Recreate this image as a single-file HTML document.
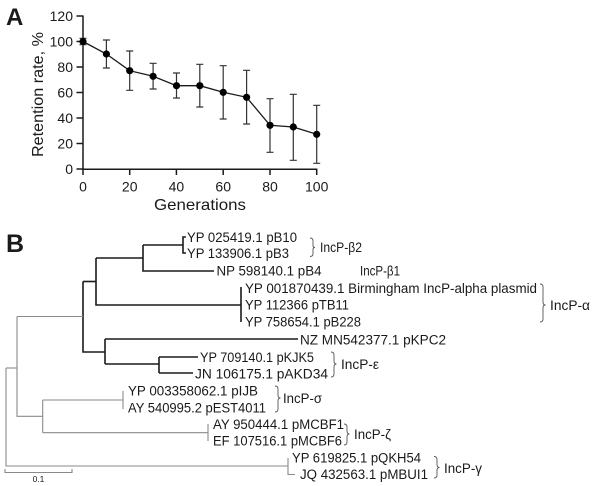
<!DOCTYPE html>
<html><head><meta charset="utf-8"><style>
html,body{margin:0;padding:0;background:#fff;}
svg{display:block;}
text{font-family:"Liberation Sans",sans-serif;fill:#1a1a1a;}
</style></head><body>
<svg width="600" height="486" viewBox="0 0 600 486" xmlns="http://www.w3.org/2000/svg">
<!-- Panel A -->
<text x="6" y="25" font-size="24" font-weight="bold">A</text>
<g stroke="#1a1a1a" stroke-width="1.5" fill="none">
  <line x1="83" y1="15.5" x2="83" y2="169.5"/>
  <line x1="82.3" y1="169.3" x2="317.4" y2="169.3"/>
  <line x1="76.5" y1="16" x2="83" y2="16"/>
  <line x1="76.5" y1="41.5" x2="83" y2="41.5"/>
  <line x1="76.5" y1="67" x2="83" y2="67"/>
  <line x1="76.5" y1="92.5" x2="83" y2="92.5"/>
  <line x1="76.5" y1="118" x2="83" y2="118"/>
  <line x1="76.5" y1="143.5" x2="83" y2="143.5"/>
  <line x1="76.5" y1="169" x2="83" y2="169"/>
  <line x1="83" y1="169" x2="83" y2="175"/>
  <line x1="129.7" y1="169" x2="129.7" y2="175"/>
  <line x1="176.4" y1="169" x2="176.4" y2="175"/>
  <line x1="223.2" y1="169" x2="223.2" y2="175"/>
  <line x1="270" y1="169" x2="270" y2="175"/>
  <line x1="316.7" y1="169" x2="316.7" y2="175"/>
</g>
<g font-size="14" text-anchor="end">
  <text x="73" y="21">120</text>
  <text x="73" y="46.5">100</text>
  <text x="73" y="72">80</text>
  <text x="73" y="97.5">60</text>
  <text x="73" y="123">40</text>
  <text x="73" y="148.5">20</text>
  <text x="73" y="174">0</text>
</g>
<g font-size="14" text-anchor="middle">
  <text x="83" y="191.5">0</text>
  <text x="129.7" y="191.5">20</text>
  <text x="176.4" y="191.5">40</text>
  <text x="223.2" y="191.5">60</text>
  <text x="270" y="191.5">80</text>
  <text x="316.7" y="191.5">100</text>
</g>
<text x="200" y="210" font-size="16" text-anchor="middle" textLength="92" lengthAdjust="spacingAndGlyphs">Generations</text>
<text transform="translate(43,94.5) rotate(-90)" font-size="16" text-anchor="middle" textLength="125" lengthAdjust="spacingAndGlyphs">Retention rate, %</text>
<!-- error bars -->
<g stroke="#333" stroke-width="1.2" fill="none">
  <path d="M83 38.3V44.7M79.5 38.3H86.5M79.5 44.7H86.5"/>
  <path d="M106.4 40V68M102.9 40H109.9M102.9 68H109.9"/>
  <path d="M129.7 51V90.3M126.2 51H133.2M126.2 90.3H133.2"/>
  <path d="M153.1 63.3V89M149.6 63.3H156.6M149.6 89H156.6"/>
  <path d="M176.5 73V98M173 73H180M173 98H180"/>
  <path d="M199.8 64.3V107M196.3 64.3H203.3M196.3 107H203.3"/>
  <path d="M223.2 65.7V119M219.7 65.7H226.7M219.7 119H226.7"/>
  <path d="M246.6 70.3V124M243.1 70.3H250.1M243.1 124H250.1"/>
  <path d="M270 98.7V152.3M266.5 98.7H273.5M266.5 152.3H273.5"/>
  <path d="M293.3 94.3V160.3M289.8 94.3H296.8M289.8 160.3H296.8"/>
  <path d="M316.7 105.3V163.3M313.2 105.3H320.2M313.2 163.3H320.2"/>
</g>
<polyline fill="none" stroke="#1a1a1a" stroke-width="1.3" points="83,41.5 106.4,54 129.7,70.7 153.1,76.3 176.5,85.7 199.8,85.7 223.2,92.3 246.6,97.3 270,125.3 293.3,127 316.7,134.3"/>
<g fill="#000">
  <circle cx="83" cy="41.5" r="3.6"/>
  <circle cx="106.4" cy="54" r="3.6"/>
  <circle cx="129.7" cy="70.7" r="3.6"/>
  <circle cx="153.1" cy="76.3" r="3.6"/>
  <circle cx="176.5" cy="85.7" r="3.6"/>
  <circle cx="199.8" cy="85.7" r="3.6"/>
  <circle cx="223.2" cy="92.3" r="3.6"/>
  <circle cx="246.6" cy="97.3" r="3.6"/>
  <circle cx="270" cy="125.3" r="3.6"/>
  <circle cx="293.3" cy="127" r="3.6"/>
  <circle cx="316.7" cy="134.3" r="3.6"/>
</g>

<!-- Panel B -->
<text x="6" y="252" font-size="25" font-weight="bold">B</text>
<!-- black subtree -->
<g stroke="#1a1a1a" stroke-width="1.6" fill="none">
  <path d="M186 237H183V253H186"/>
  <path d="M143 245H183"/>
  <path d="M143 245V271H214"/>
  <path d="M96 258H143"/>
  <path d="M96 258V305H241"/>
  <path d="M241 287V322"/>
  <path d="M83 281.5H96"/>
  <path d="M83 281.5V352H105"/>
  <path d="M105 339V364"/>
  <path d="M105 339H298"/>
  <path d="M105 364H159"/>
  <path d="M159 357V373"/>
  <path d="M159 357H198"/>
  <path d="M159 373H193"/>
</g>
<!-- gray tree -->
<g stroke="#8a8a8a" stroke-width="1.1" fill="none">
  <path d="M17 316.5H83"/>
  <path d="M17 316.5V416.3H42.7"/>
  <path d="M42.7 400V432.7"/>
  <path d="M42.7 400H123"/>
  <path d="M42.7 432.7H208"/>
  <path d="M123 391V409"/>
  <path d="M208 424V441"/>
  <path d="M6 368H17"/>
  <path d="M6 368V466H288"/>
  <path d="M288 458V474.5H295"/>
  <path d="M5 469V472.5H72V469"/>
</g>
<text x="38.5" y="482" font-size="8.5" text-anchor="middle">0.1</text>
<!-- brackets -->
<g stroke="#555" stroke-width="0.9" fill="none">
  <path d="M310 238Q313 238 313 241V245.5Q313 247.5 315 247.5Q313 247.5 313 249.5V253.5Q313 256.5 310 256.5"/>
  <path d="M540 284Q543 284 543 287V302Q543 305 545.5 305Q543 305 543 308V319Q543 322 540 322"/>
  <path d="M331 352Q334 352 334 355V361Q334 364 336.5 364Q334 364 334 367V374Q334 377 331 377"/>
  <path d="M275 386Q278 386 278 389V395Q278 398 280.5 398Q278 398 278 401V409Q278 412 275 412"/>
  <path d="M344 424Q347 424 347 427V431Q347 434 349.5 434Q347 434 347 437V442Q347 445 344 445"/>
  <path d="M434 456.5Q437 456.5 437 459.5V464.5Q437 467.5 439.5 467.5Q437 467.5 437 470.5V475Q437 478 434 478"/>
</g>
<!-- leaf labels -->
<g font-size="13.5">
  <text x="187" y="242" textLength="110" lengthAdjust="spacingAndGlyphs">YP 025419.1 pB10</text>
  <text x="187" y="258" textLength="102" lengthAdjust="spacingAndGlyphs">YP 133906.1 pB3</text>
  <text x="216.5" y="275.5" textLength="105" lengthAdjust="spacingAndGlyphs">NP 598140.1 pB4</text>
  <text x="245" y="293" textLength="292" lengthAdjust="spacingAndGlyphs">YP 001870439.1 Birmingham IncP-alpha plasmid</text>
  <text x="245" y="309.5" textLength="104" lengthAdjust="spacingAndGlyphs">YP 112366 pTB11</text>
  <text x="245" y="326.5" textLength="116" lengthAdjust="spacingAndGlyphs">YP 758654.1 pB228</text>
  <text x="300" y="344.5" textLength="146" lengthAdjust="spacingAndGlyphs">NZ MN542377.1 pKPC2</text>
  <text x="200" y="362" textLength="114" lengthAdjust="spacingAndGlyphs">YP 709140.1 pKJK5</text>
  <text x="195" y="378.5" textLength="133" lengthAdjust="spacingAndGlyphs">JN 106175.1 pAKD34</text>
  <text x="128" y="395.5" textLength="130" lengthAdjust="spacingAndGlyphs">YP 003358062.1 pIJB</text>
  <text x="128" y="412.5" textLength="138" lengthAdjust="spacingAndGlyphs">AY 540995.2 pEST4011</text>
  <text x="213" y="429" textLength="131" lengthAdjust="spacingAndGlyphs">AY 950444.1 pMCBF1</text>
  <text x="213" y="445.5" textLength="129" lengthAdjust="spacingAndGlyphs">EF 107516.1 pMCBF6</text>
  <text x="292" y="462.5" textLength="129" lengthAdjust="spacingAndGlyphs">YP 619825.1 pQKH54</text>
  <text x="300" y="479" textLength="128" lengthAdjust="spacingAndGlyphs">JQ 432563.1 pMBUI1</text>
</g>
<!-- group labels -->
<g font-size="13.5">
  <text x="320" y="252" textLength="42" lengthAdjust="spacingAndGlyphs">IncP-β2</text>
  <text x="360" y="275.5" textLength="40" lengthAdjust="spacingAndGlyphs">IncP-β1</text>
  <text x="550" y="310" textLength="40" lengthAdjust="spacingAndGlyphs">IncP-α</text>
  <text x="341" y="369" textLength="38" lengthAdjust="spacingAndGlyphs">IncP-ε</text>
  <text x="283" y="403" textLength="39" lengthAdjust="spacingAndGlyphs">IncP-σ</text>
  <text x="354" y="439" textLength="37" lengthAdjust="spacingAndGlyphs">IncP-ζ</text>
  <text x="444" y="473" textLength="38" lengthAdjust="spacingAndGlyphs">IncP-γ</text>
</g>
</svg>
</body></html>
